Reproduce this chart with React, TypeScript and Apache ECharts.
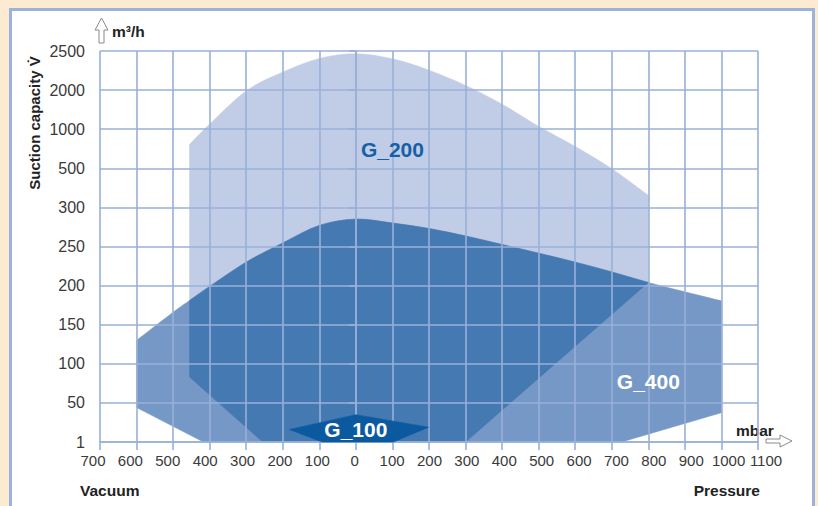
import React, { useEffect, useRef } from "react";
import * as echarts from "echarts";

// ---- Data (x: mbar, negative = vacuum; y: index of the non-linear capacity scale) ----
const xLabels = ["700", "600", "500", "400", "300", "200", "100", "0", "100", "200", "300", "400", "500", "600", "700", "800", "900", "1000", "1100"];
const yLabels = ["1", "50", "100", "150", "200", "250", "300", "500", "1000", "2000", "2500"];

const g200Top: number[][] = [
  [-455, 7.61], [-400, 8.13], [-300, 8.98], [-200, 9.46], [-100, 9.81], [0, 9.93],
  [100, 9.8], [200, 9.51], [300, 9.12], [400, 8.64], [500, 8.07], [600, 7.56], [700, 6.99], [800, 6.31],
];
const g200Lower: number[][] = [[800, 4.08], [300, 0], [-255, 0], [-455, 1.66]];

const g400Top: number[][] = [
  [-600, 2.6], [-500, 3.32], [-455, 3.62], [-400, 3.98], [-300, 4.6], [-200, 5.09], [-100, 5.54],
  [0, 5.7], [100, 5.6], [200, 5.46], [300, 5.27], [400, 5.05], [500, 4.83], [600, 4.6],
  [700, 4.35], [800, 4.08], [900, 3.84], [1000, 3.61],
];
const g400Lower: number[][] = [[1000, 0.75], [727, 0], [-417, 0], [-600, 0.88]];

const g100Outline: number[][] = [[-182, 0.32], [0, 0.7], [199, 0.38], [103, 0], [-93, 0]];

const seriesLabels = [
  { text: "G_200", pos: [100, 7.49], color: "#1660a8" },
  { text: "G_400", pos: [800, 1.56], color: "#ffffff" },
  { text: "G_100", pos: [0, 0.31], color: "#ffffff" },
];

const GRID = "#98b0d9";
const FONT = "'Liberation Sans', Arial, sans-serif";

// Smooth (Catmull-Rom) curve through pixel points pts[i0..i1], using neighbours from the full array
function curveCmds(pts: number[][], i0: number, i1: number): string {
  let d = "";
  const n = pts.length;
  for (let i = i0; i < i1; i++) {
    const p0 = pts[Math.max(i - 1, 0)];
    const p1 = pts[i];
    const p2 = pts[i + 1];
    const p3 = pts[Math.min(i + 2, n - 1)];
    const c1x = p1[0] + (p2[0] - p0[0]) / 6;
    const c1y = p1[1] + (p2[1] - p0[1]) / 6;
    const c2x = p2[0] - (p3[0] - p1[0]) / 6;
    const c2y = p2[1] - (p3[1] - p1[1]) / 6;
    d += ` C${c1x},${c1y} ${c2x},${c2y} ${p2[0]},${p2[1]}`;
  }
  return d;
}

function shapeSeries(
  name: string,
  curve: number[][],
  i0: number,
  i1: number,
  straight: number[][],
  color: string,
  z: number
) {
  return {
    type: "custom",
    name,
    xAxisIndex: 0,
    yAxisIndex: 0,
    z,
    silent: true,
    data: [[0, 0]],
    renderItem: (_params: any, api: any) => {
      const cp = curve.map((p) => api.coord(p));
      const sp = straight.map((p) => api.coord(p));
      let d = `M${cp[i0][0]},${cp[i0][1]}` + curveCmds(cp, i0, i1);
      sp.forEach((p) => (d += ` L${p[0]},${p[1]}`));
      d += " Z";
      return {
        type: "path",
        shape: { pathData: d },
        style: { fill: color, stroke: color, lineWidth: 0.5 },
      };
    },
  };
}

function polySeries(name: string, pts: number[][], color: string, z: number) {
  return {
    type: "custom",
    name,
    xAxisIndex: 0,
    yAxisIndex: 0,
    z,
    silent: true,
    data: [[0, 0]],
    renderItem: (_params: any, api: any) => ({
      type: "polygon",
      shape: { points: pts.map((p) => api.coord(p)) },
      style: { fill: color, stroke: color, lineWidth: 0.5 },
    }),
  };
}

export default function App() {
  const ref = useRef<HTMLDivElement>(null);

  useEffect(() => {
    if (!ref.current) return;
    const chart = echarts.init(ref.current, null, { renderer: "svg" });

    const ovStart = g400Top.findIndex((p) => p[0] === -455);
    const ovEnd = g400Top.findIndex((p) => p[0] === 800);

    const lineStyle = { color: GRID, width: 1.6 };

    const option: any = {
      animation: false,
      grid: [
        { left: 100, right: 60, top: 51, bottom: 64 },
        { left: 93, right: 52, top: 51, bottom: 64 },
      ],
      xAxis: [
        {
          type: "value",
          gridIndex: 0,
          min: -700,
          max: 1100,
          interval: 100,
          z: 3,
          axisLine: { show: true, lineStyle },
          axisTick: { show: true, length: 8, lineStyle },
          axisLabel: { show: false },
          splitLine: { show: true, lineStyle },
        },
        {
          type: "value",
          gridIndex: 1,
          min: -700,
          max: 1100,
          interval: 100,
          axisLine: { show: false },
          axisTick: { show: false },
          splitLine: { show: false },
          axisLabel: {
            show: true,
            margin: 11,
            fontFamily: FONT,
            fontSize: 15,
            color: "#3a3a3a",
            showMinLabel: true,
            showMaxLabel: true,
            formatter: (v: number) => xLabels[Math.round((v + 700) / 100)] ?? "",
          },
        },
      ],
      yAxis: [
        {
          type: "value",
          gridIndex: 0,
          min: 0,
          max: 10,
          interval: 1,
          z: 3,
          axisLine: { show: true, lineStyle },
          axisTick: { show: true, length: 7, lineStyle },
          splitLine: { show: true, lineStyle },
          axisLabel: {
            margin: 15,
            fontFamily: FONT,
            fontSize: 16,
            color: "#3a3a3a",
            formatter: (v: number) => yLabels[Math.round(v)] ?? "",
          },
        },
        {
          type: "value",
          gridIndex: 1,
          min: 0,
          max: 10,
          show: false,
        },
      ],
      series: [
        shapeSeries("G_200", g200Top, 0, g200Top.length - 1, g200Lower, "#c1cde6", 1),
        shapeSeries("G_400", g400Top, 0, g400Top.length - 1, g400Lower, "#7698c7", 1),
        shapeSeries("overlap", g400Top, ovStart, ovEnd, g200Lower, "#4479b2", 1),
        polySeries("G_100", g100Outline, "#0b5a9f", 4),
        {
          type: "custom",
          name: "labels",
          xAxisIndex: 0,
          yAxisIndex: 0,
          z: 5,
          silent: true,
          data: seriesLabels.map((_, i) => [i, 0]),
          renderItem: (params: any, api: any) => {
            const l = seriesLabels[params.dataIndex];
            const c = api.coord(l.pos);
            return {
              type: "text",
              x: c[0],
              y: c[1],
              style: {
                text: l.text,
                fill: l.color,
                font: `bold 21px ${FONT}`,
                align: "center",
                verticalAlign: "middle",
              },
            };
          },
        },
      ],
      graphic: [
        {
          type: "polygon",
          shape: { points: [[101.5, 18], [108, 30], [104, 30], [104, 43], [99, 43], [99, 30], [95, 30]] },
          style: { fill: "#ffffff", stroke: "#8a8a8a", lineWidth: 1 },
        },
        {
          type: "polygon",
          shape: { points: [[766, 439], [780, 439], [780, 435], [792, 441], [780, 447], [780, 443], [766, 443]] },
          style: { fill: "#ffffff", stroke: "#8a8a8a", lineWidth: 1 },
        },
        {
          type: "text",
          x: 112,
          y: 31,
          style: { text: "m³/h", font: `bold 15.5px ${FONT}`, fill: "#222", textAlign: "left", textVerticalAlign: "middle" },
        },
        {
          type: "text",
          x: 736,
          y: 430,
          style: { text: "mbar", font: `bold 15.5px ${FONT}`, fill: "#222", textAlign: "left", textVerticalAlign: "middle" },
        },
        {
          type: "text",
          x: 80,
          y: 490,
          style: { text: "Vacuum", font: `bold 15.5px ${FONT}`, fill: "#222", textAlign: "left", textVerticalAlign: "middle" },
        },
        {
          type: "text",
          x: 760,
          y: 490,
          style: { text: "Pressure", font: `bold 15.5px ${FONT}`, fill: "#222", textAlign: "right", textVerticalAlign: "middle" },
        },
        {
          type: "text",
          x: 34.5,
          y: 123,
          rotation: Math.PI / 2,
          style: { text: "Suction capacity V̇", font: `bold 15px ${FONT}`, fill: "#222", textAlign: "center", textVerticalAlign: "middle" },
        },
      ],
    };

    chart.setOption(option);
    return () => chart.dispose();
  }, []);

  return (
    <div
      style={{
        position: "absolute",
        left: 0,
        top: 0,
        width: 818,
        height: 506,
        overflow: "hidden",
        background: "#fdebd1",
      }}
    >
      <div
        style={{
          position: "absolute",
          left: 9,
          top: 8,
          width: 806,
          height: 530,
          boxSizing: "border-box",
          border: "3px solid #9cb2da",
          background: "#ffffff",
        }}
      />
      <div ref={ref} style={{ position: "absolute", left: 0, top: 0, width: 818, height: 506 }} />
    </div>
  );
}
